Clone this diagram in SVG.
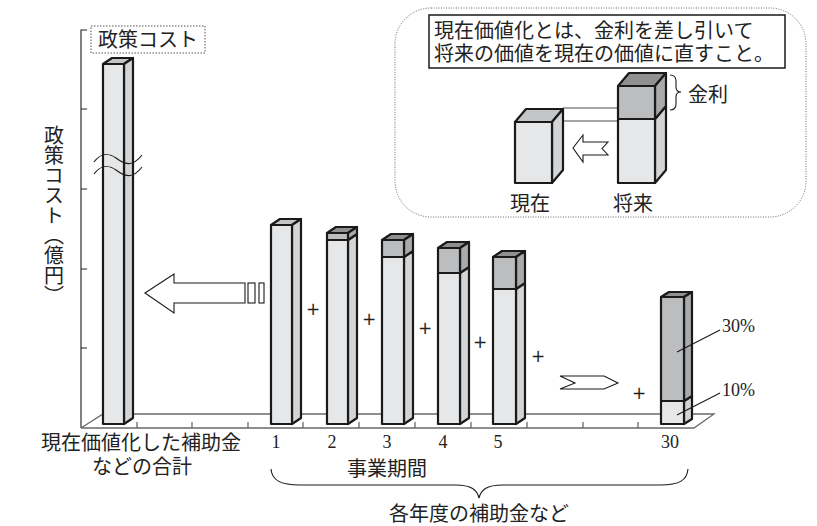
<svg xmlns="http://www.w3.org/2000/svg" width="817" height="526" viewBox="0 0 817 526">
<style>
.jp{font-family:"Noto Sans CJK JP","Noto Sans CJK SC",sans-serif;font-size:20px;fill:#222}
.num{font-family:"Liberation Serif",serif;font-size:18px;fill:#222}
.plus{font-family:"DejaVu Sans",sans-serif;font-size:17px;fill:#222}
.edge{stroke:#1a1a1a;stroke-width:2.2;stroke-linejoin:round}
.lf{fill:#e6e7e8}.ls{fill:#d3d4d6}.lt{fill:#c4c5c7}
.df{fill:#bcbdbf}.ds{fill:#a9aaac}.dt{fill:#8f9092}
.floor{stroke:#6a6a6a;stroke-width:1.3;fill:none}
.thin{stroke:#1a1a1a;stroke-width:1.1;fill:#fff}
.line{stroke:#1a1a1a;stroke-width:1.1;fill:none}
</style>

<g id="axis">
<path class="line" d="M87,30 H81 V428 M81,109 H87 M81,189 H87 M81,269 H87 M81,348 H87"/>
<text class="jp" x="54" y="125" writing-mode="vertical-rl">政策コスト（億円）</text>
</g>

<g id="floor">
<path class="floor" d="M81,428 H694 L714,414 H103 L81,428 M137,428 v-6 M192,428 v-6 M248,428 v-6 M303,428 v-6 M359,428 v-6 M415,428 v-6 M471,428 v-6 M527,428 v-6 M583,428 v-6 M638,428 v-6"/>
</g>

<g id="title">
<rect x="91" y="26" width="114" height="27" fill="#fff" stroke="#555" stroke-width="1" stroke-dasharray="1.5 1.5"/>
<text class="jp" x="148" y="47" text-anchor="middle">政策コスト</text>
</g>

<g id="bar-total">
<polygon class="edge lt" points="103,64 112,58 133,58 124,64"/>
<polygon class="edge ls" points="124,64 133,58 133,418 124,424"/>
<rect class="edge lf" x="103" y="64" width="21" height="360"/>
<path class="line" stroke-width="1.8" d="M94,162 C100,154 108,152 116,158 S132,168 142,155 M94,174 C100,166 108,164 116,170 S132,180 142,167"/>
</g>

<g id="bar-1">
<polygon class="edge lt" points="271,225 280,219 301,219 292,225"/>
<polygon class="edge ls" points="292,225 301,219 301,418 292,424"/>
<rect class="edge lf" x="271" y="225" width="21" height="199"/>
</g>

<g id="bar-2">
<polygon class="edge dt" points="327,233 336,227 357,227 348,233"/>
<polygon class="edge ls" points="348,240 357,234 357,418 348,424"/>
<polygon class="edge ds" points="348,233 357,227 357,234 348,240"/>
<rect class="edge lf" x="327" y="240" width="21" height="184"/>
<rect class="edge df" x="327" y="233" width="21" height="7"/>
</g>

<g id="bar-3">
<polygon class="edge dt" points="382,240 391,234 413,234 404,240"/>
<polygon class="edge ls" points="404,257 413,251 413,418 404,424"/>
<polygon class="edge ds" points="404,240 413,234 413,251 404,257"/>
<rect class="edge lf" x="382" y="257" width="22" height="167"/>
<rect class="edge df" x="382" y="240" width="22" height="17"/>
</g>

<g id="bar-4">
<polygon class="edge dt" points="438,248 447,242 469,242 460,248"/>
<polygon class="edge ls" points="460,273 469,267 469,418 460,424"/>
<polygon class="edge ds" points="460,248 469,242 469,267 460,273"/>
<rect class="edge lf" x="438" y="273" width="22" height="151"/>
<rect class="edge df" x="438" y="248" width="22" height="25"/>
</g>

<g id="bar-5">
<polygon class="edge dt" points="493,257 502,251 525,251 516,257"/>
<polygon class="edge ls" points="516,289 525,283 525,418 516,424"/>
<polygon class="edge ds" points="516,257 525,251 525,283 516,289"/>
<rect class="edge lf" x="493" y="289" width="23" height="135"/>
<rect class="edge df" x="493" y="257" width="23" height="32"/>
</g>

<g id="bar-30">
<polygon class="edge dt" points="661,297 669,292 692,292 684,297"/>
<polygon class="edge ls" points="684,401 692,396 692,419 684,424"/>
<polygon class="edge ds" points="684,297 692,292 692,396 684,401"/>
<rect class="edge lf" x="661" y="401" width="23" height="23"/>
<rect class="edge df" x="661" y="297" width="23" height="104"/>
</g>

<g id="connectors">
<polygon class="thin" points="145,293 174,274 174,283 245,283 245,303 174,303 174,313"/>
<rect class="thin" x="248" y="283" width="7" height="20"/>
<rect class="thin" x="259" y="283" width="5" height="20"/>
<polygon class="thin" points="560,376 604,376 618,383 604,389 560,389 575,383"/>
<path class="line" d="M677,352 L720,330 M677,415 L720,393"/>
<path class="line" stroke-width="1.3" d="M271,469 C272,480 280,485 300,485 L455,485 C472,485 477,490 479,498 C481,490 486,485 503,485 L660,485 C680,485 687,480 688,469"/>
</g>

<g id="plus-signs">
<text class="plus" x="313" y="315" text-anchor="middle">+</text>
<text class="plus" x="369" y="325" text-anchor="middle">+</text>
<text class="plus" x="425" y="334" text-anchor="middle">+</text>
<text class="plus" x="480" y="348" text-anchor="middle">+</text>
<text class="plus" x="538" y="362" text-anchor="middle">+</text>
<text class="plus" x="639" y="399" text-anchor="middle">+</text>
</g>

<g id="labels">
<text class="num" x="722" y="332">30%</text>
<text class="num" x="722" y="396">10%</text>
<text class="num" x="276" y="448" text-anchor="middle">1</text>
<text class="num" x="332" y="448" text-anchor="middle">2</text>
<text class="num" x="387" y="448" text-anchor="middle">3</text>
<text class="num" x="443" y="448" text-anchor="middle">4</text>
<text class="num" x="498" y="448" text-anchor="middle">5</text>
<text class="num" x="670" y="448" text-anchor="middle">30</text>
<text class="jp" text-anchor="middle"><tspan x="141" y="450">現在価値化した補助金</tspan><tspan x="142" y="474">などの合計</tspan></text>
<text class="jp" x="387" y="476" text-anchor="middle">事業期間</text>
<text class="jp" x="479" y="521" text-anchor="middle">各年度の補助金など</text>
</g>

<g id="callout">
<rect x="395" y="8" width="411" height="209" rx="36" fill="#fff" stroke="#666" stroke-width="1" stroke-dasharray="1 1.5"/>
<rect x="429" y="15" width="356" height="53" fill="#fff" stroke="#1a1a1a" stroke-width="1.5"/>
<text class="jp" font-size="20.4"><tspan x="434" y="38">現在価値化とは、金利を差し引いて</tspan><tspan x="434" y="61">将来の価値を現在の価値に直すこと。</tspan></text>
<path stroke="#888" stroke-width="1.5" fill="none" d="M563,108 H618 M563,121 H618"/>
<g id="box-present">
<polygon class="edge lt" points="515,122 526,109 563,109 552,122"/>
<polygon class="edge ls" points="552,122 563,109 563,170 552,183"/>
<rect class="edge lf" x="515" y="122" width="37" height="61"/>
</g>
<g id="box-future">
<polygon class="edge dt" points="618,86 629,73 666,73 655,86"/>
<polygon class="edge ls" points="655,119 666,106 666,170 655,183"/>
<polygon class="edge ds" points="655,86 666,73 666,106 655,119"/>
<rect class="edge lf" x="618" y="119" width="37" height="64"/>
<rect class="edge df" x="618" y="86" width="37" height="33"/>
</g>
<polygon class="thin" points="573,148 583,135 583,142 608,142 602,148.5 608,155 583,155 583,162"/>
<path class="line" d="M670,75 Q676,75 676,81 L676,87 Q676,92 681,92 Q676,92 676,97 L676,104 Q676,110 670,110"/>
<text class="jp" x="688" y="102">金利</text>
<text class="jp" x="530" y="211" text-anchor="middle">現在</text>
<text class="jp" x="633" y="211" text-anchor="middle">将来</text>
</g>
</svg>
